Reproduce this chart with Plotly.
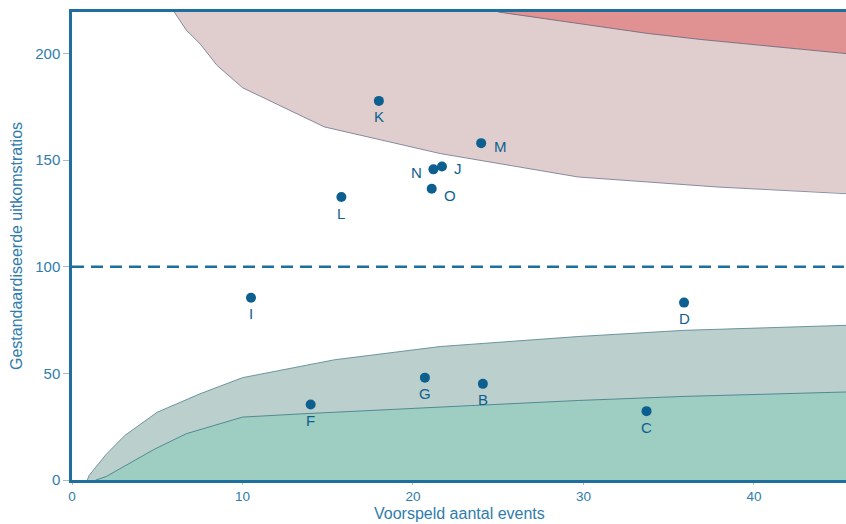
import plotly.graph_objects as go

# ---- data ----
labels = ["B", "C", "D", "F", "G", "I", "J", "K", "L", "M", "N", "O"]
expected_events = [24.1, 33.7, 35.9, 14.0, 20.7, 10.5, 21.7, 18.0, 15.8, 24.0, 21.2, 21.1]
ratios = [45.1, 32.3, 83.2, 35.4, 48.0, 85.5, 147.0, 177.8, 132.7, 158.0, 145.7, 136.6]

# control limits (funnel)
upper_outer_x = [6.0, 6.7, 7.5, 8.5, 10.0, 13.4, 14.8, 21.6, 29.7, 37.9, 45.4]
upper_outer_y = [219.5, 211.0, 204.7, 194.5, 184.0, 171.0, 165.6, 153.1, 142.1, 137.4, 134.3]
upper_inner_x = [25.0, 33.8, 36.9, 45.4]
upper_inner_y = [219.5, 209.4, 206.6, 200.0]
lower_outer_x = [0.9, 1.0, 2.0, 3.1, 5.0, 7.5, 10.0, 13.4, 15.4, 21.6, 29.7, 35.9, 45.4]
lower_outer_y = [0.0, 2.1, 12.0, 20.9, 31.8, 40.4, 48.0, 53.3, 56.4, 62.6, 67.3, 70.2, 72.8]
lower_inner_x = [1.4, 2.0, 4.8, 6.7, 10.0, 13.4, 21.6, 29.7, 35.9, 45.4]
lower_inner_y = [0.0, 1.6, 14.3, 21.7, 29.5, 31.0, 34.2, 37.3, 39.2, 41.5]

reference_value = 100
x_ticks = [0, 10, 20, 30, 40]
y_ticks = [0, 50, 100, 150, 200]
X_MAX = 45.4
Y_MAX = 219.5
x_title = "Voorspeld aantal events"
y_title = "Gestandaardiseerde uitkomstratios"

# label offsets (pixels)
label_shift = {
    "M": (19, -3), "J": (16, -2), "N": (-17, -3), "O": (18, -7),
}

DARK = "#0d5f8f"
AX = "#1e6e9e"
TXT = "#2f7cad"
FONT = "Liberation Sans, Arial, sans-serif"

fig = go.Figure()

# upper outer (light pink) region
fig.add_trace(go.Scatter(
    x=upper_outer_x + [X_MAX + 1, X_MAX + 1, upper_outer_x[0]],
    y=upper_outer_y + [upper_outer_y[-1], Y_MAX + 5, Y_MAX + 5],
    fill="toself", fillcolor="#e0cece", mode="lines",
    line=dict(color="rgba(0,0,0,0)", width=0), hoverinfo="skip", showlegend=False))
fig.add_trace(go.Scatter(x=upper_outer_x, y=upper_outer_y, mode="lines",
    line=dict(color="rgba(110,115,140,0.8)", width=1), hoverinfo="skip", showlegend=False))

# upper inner (dark red) region
fig.add_trace(go.Scatter(
    x=upper_inner_x + [X_MAX + 1, X_MAX + 1, upper_inner_x[0]],
    y=upper_inner_y + [upper_inner_y[-1], Y_MAX + 5, Y_MAX + 5],
    fill="toself", fillcolor="#e09293", mode="lines",
    line=dict(color="rgba(0,0,0,0)", width=0), hoverinfo="skip", showlegend=False))
fig.add_trace(go.Scatter(x=upper_inner_x, y=upper_inner_y, mode="lines",
    line=dict(color="rgba(100,100,125,0.8)", width=1), hoverinfo="skip", showlegend=False))

# lower outer (grey-teal) region
fig.add_trace(go.Scatter(
    x=lower_outer_x + [X_MAX + 1], y=lower_outer_y + [lower_outer_y[-1]],
    fill="tozeroy", fillcolor="#bbcfcd", mode="lines",
    line=dict(color="rgba(80,130,140,0.8)", width=1), hoverinfo="skip", showlegend=False))

# lower inner (teal) region
fig.add_trace(go.Scatter(
    x=lower_inner_x + [X_MAX + 1], y=lower_inner_y + [lower_inner_y[-1]],
    fill="tozeroy", fillcolor="#9dcec1", mode="lines",
    line=dict(color="rgba(60,120,135,0.8)", width=1), hoverinfo="skip", showlegend=False))

# reference line
fig.add_trace(go.Scatter(x=[0, X_MAX + 1], y=[reference_value, reference_value], mode="lines",
    line=dict(color=AX, width=2.5, dash="12px,7px"), hoverinfo="skip", showlegend=False))

# points
fig.add_trace(go.Scatter(x=expected_events, y=ratios, mode="markers",
    marker=dict(color=DARK, size=10), text=labels, showlegend=False))

for lab, xv, yv in zip(labels, expected_events, ratios):
    dx, dy = label_shift.get(lab, (0, -16))
    fig.add_annotation(x=xv, y=yv, text=lab, showarrow=False, xshift=dx, yshift=dy,
                       font=dict(family=FONT, size=15, color=DARK))

# x-axis title placed as a paper annotation for precise positioning
fig.add_annotation(x=0.5, y=0, xref="paper", yref="paper", yanchor="middle",
                   yshift=-33, text=x_title, showarrow=False, borderpad=0,
                   font=dict(family=FONT, size=16, color=TXT))

fig.update_layout(
    width=846, height=524,
    margin=dict(l=72, r=0, t=12, b=44),
    paper_bgcolor="white", plot_bgcolor="white",
    font=dict(family=FONT, color=TXT),
)
fig.update_xaxes(range=[0, X_MAX], tickvals=x_ticks, showgrid=False, zeroline=False,
    showline=True, linecolor=AX, linewidth=2.5, mirror=True,
    ticks="outside", ticklen=2, tickcolor="#a8bccb", tickwidth=1,
    tickfont=dict(size=13.5, color=TXT))
fig.update_yaxes(range=[0, Y_MAX], tickvals=y_ticks, showgrid=False, zeroline=False,
    showline=True, linecolor=AX, linewidth=2.5,
    ticks="outside", ticklen=6, tickcolor="#a8bccb", tickwidth=1,
    tickfont=dict(size=15, color=TXT),
    title=dict(text=y_title, font=dict(size=16, color=TXT), standoff=9))

fig.write_html("out.html", config={"displayModeBar": False},
               post_script="document.body.style.margin='0';document.body.style.overflow='hidden';")
